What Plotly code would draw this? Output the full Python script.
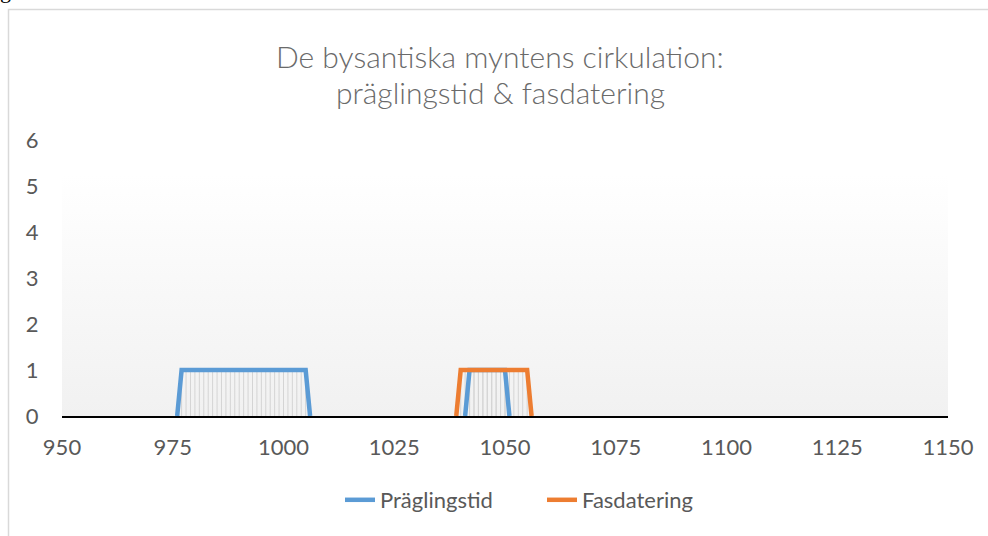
import plotly.graph_objects as go

# ---- data ----
prag_years = [976, 977, 978, 979, 980, 981, 982, 983, 984, 985, 986, 987, 988, 989, 990,
              991, 992, 993, 994, 995, 996, 997, 998, 999, 1000, 1001, 1002, 1003, 1004,
              1005, 1006, None,
              1041, 1042, 1043, 1044, 1045, 1046, 1047, 1048, 1049, 1050, 1051]
prag_vals = [0, 1, 1, 1, 1, 1, 1, 1, 1, 1, 1, 1, 1, 1, 1,
             1, 1, 1, 1, 1, 1, 1, 1, 1, 1, 1, 1, 1, 1,
             1, 0, None,
             0, 1, 1, 1, 1, 1, 1, 1, 1, 1, 0]
fas_years = [1039, 1040, 1041, 1042, 1043, 1044, 1045, 1046, 1047, 1048, 1049, 1050,
             1051, 1052, 1053, 1054, 1055, 1056]
fas_vals = [0, 1, 1, 1, 1, 1, 1, 1, 1, 1, 1, 1, 1, 1, 1, 1, 1, 0]
x_ticks = [950, 975, 1000, 1025, 1050, 1075, 1100, 1125, 1150]
y_ticks = [0, 1, 2, 3, 4, 5, 6]
band_top = 5.25

title_lines = ["De bysantiska myntens cirkulation:", "präglingstid &amp; fasdatering"]
FONT = "Lato"
GRAY = "#595959"

fig = go.Figure()

# background gradient band
fig.add_trace(go.Scatter(
    x=[x_ticks[0], x_ticks[-1], x_ticks[-1], x_ticks[0], x_ticks[0]],
    y=[0, 0, band_top, band_top, 0],
    fill="toself", mode="lines", line=dict(width=0),
    fillgradient=dict(type="vertical", colorscale=[[0, "#f1f1f1"], [1, "#ffffff"]]),
    hoverinfo="skip", showlegend=False))

# drop lines built from the data points
def drops(xs, ys):
    dx, dy = [], []
    for x, y in zip(xs, ys):
        if x is None or not y:
            continue
        dx += [x, x, None]
        dy += [0, y, None]
    return dx, dy

for xs, ys in [(prag_years, prag_vals), (fas_years, fas_vals)]:
    dx, dy = drops(xs, ys)
    fig.add_trace(go.Scatter(x=dx, y=dy, mode="lines",
                             line=dict(color="#d4d4d4", width=1),
                             hoverinfo="skip", showlegend=False))

fig.add_trace(go.Scatter(x=prag_years, y=prag_vals, mode="lines", name="Präglingstid",
                         line=dict(color="#5b9bd5", width=4.5), connectgaps=False))
fig.add_trace(go.Scatter(x=fas_years, y=fas_vals, mode="lines", name="Fasdatering",
                         line=dict(color="#ed7d31", width=4.5)))

L, R, T, B = 62, 40, 140, 120
W, H = 988, 536
pw, ph = W - L - R, H - T - B

def px2x(px):
    return (px - L) / pw

def px2y(py):
    return (H - B - py) / ph

annotations = [dict(text="g", xref="paper", yref="paper",
                    x=px2x(-2), y=px2y(5), xanchor="left", yanchor="bottom",
                    showarrow=False,
                    font=dict(family="Liberation Serif", size=22, color="#000000"))]
for line, cy in zip(title_lines, [56, 92]):
    annotations.append(dict(text=line, xref="paper", yref="paper",
                            x=px2x(500), y=px2y(cy), xanchor="center", yanchor="middle",
                            showarrow=False,
                            font=dict(family=FONT, size=30, color="#6a6a6a", weight=300)))

fig.update_layout(
    width=W, height=H,
    margin=dict(l=L, r=R, t=T, b=B),
    paper_bgcolor="white", plot_bgcolor="rgba(0,0,0,0)",
    font=dict(family=FONT, color=GRAY, size=21),
    xaxis=dict(range=[x_ticks[0], x_ticks[-1]], tickvals=x_ticks,
               showgrid=False, zeroline=False, showline=True,
               linecolor="#000000", linewidth=2,
               ticks="outside", ticklen=11, tickcolor="rgba(0,0,0,0)",
               tickfont=dict(family=FONT, size=22, color=GRAY)),
    yaxis=dict(range=[0, 6], tickvals=y_ticks, showgrid=False, zeroline=False,
               showline=False, ticks="outside", ticklen=18,
               tickcolor="rgba(0,0,0,0)",
               tickfont=dict(family=FONT, size=22, color=GRAY)),
    legend=dict(orientation="h", x=px2x(340), xanchor="left",
                y=px2y(500), yanchor="middle",
                font=dict(family=FONT, size=22, color=GRAY),
                entrywidth=157, entrywidthmode="pixels",
                tracegroupgap=0),
    shapes=[dict(type="rect", xref="paper", yref="paper",
                 x0=px2x(8.5), x1=px2x(995), y0=px2y(545), y1=px2y(9.5),
                 line=dict(color="#d9d9d9", width=1.5), fillcolor="rgba(0,0,0,0)",
                 layer="below")],
    annotations=annotations,
)

fig.write_html("out.html", post_script="document.body.style.margin='0';",
               config={"displayModeBar": False})
